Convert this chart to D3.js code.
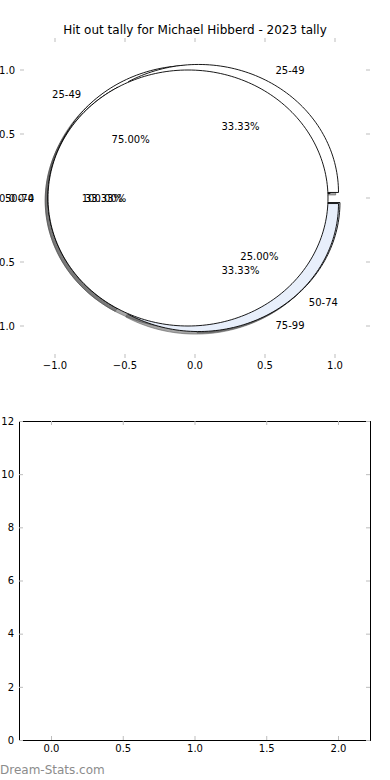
<!DOCTYPE html>
<html>
<head>
<meta charset="utf-8">
<script src="https://cdn.jsdelivr.net/npm/d3@7"></script>
<style>
  body { margin: 0; background: #fff; }
  text { font-family: "DejaVu Sans", sans-serif; }
</style>
</head>
<body>
<div id="chart-container"></div>
<script>
const titleText = "Hit out tally for Michael Hibberd - 2023 tally";

// three pies drawn over each other on the same axes
const pieALabels = ["25-49", "50-74"];
const pieAValues = [75, 25];
const pieBLabels = ["25-49", "50-74", "75-99"];
const pieBValues = [1, 1, 1];
const pieCLabels = ["0-0"];
const pieCValues = [1];

const pieTicks = [-1.0, -0.5, 0.0, 0.5, 1.0];
const barXTicks = [0.0, 0.5, 1.0, 1.5, 2.0];
const barYTicks = [0, 2, 4, 6, 8, 10, 12];

if (document.addEventListener) {
  document.addEventListener('DOMContentLoaded', function() {
    visualise();
  });
}

function visualise() {
  const svgWidth = 390;
  const svgHeight = 780;

  const svg = d3.select('#chart-container')
      .append('svg')
      .attr('width', svgWidth)
      .attr('height', svgHeight);

  const tickColor = '#bdbdbd';
  const fmt = d3.format('.1f');

  // ---- top axes: the pies ----
  const top = {left: 20, right: 370, top: 38, bottom: 358};
  const x = d3.scaleLinear().domain([-1.25, 1.25]).range([top.left, top.right]);
  const y = d3.scaleLinear().domain([-1.25, 1.25]).range([top.bottom, top.top]);

  svg.append('text')
      .attr('x', 195)
      .attr('y', 34)
      .attr('text-anchor', 'middle')
      .attr('font-size', 12)
      .attr('fill', '#000')
      .text(titleText);

  const shadowLayer = svg.append('g');
  const wedgeLayer = svg.append('g');
  const textLayer = svg.append('g');

  const line = d3.line()
      .x(function(d) { return x(d[0]); })
      .y(function(d) { return y(d[1]); });

  function wedgePoints(a, cx, cy) {
    const span = a.endAngle - a.startAngle;
    const full = span >= 2 * Math.PI - 1e-9;
    const n = Math.max(8, Math.ceil(span / (Math.PI / 120)));
    const pts = full ? [] : [[cx, cy]];
    for (let i = 0; i <= n; i++) {
      const t = a.startAngle + span * i / n;
      pts.push([cx + Math.cos(t), cy + Math.sin(t)]);
    }
    return pts;
  }

  function drawPie(values, labels, colors, explode) {
    // d3.pie angles are read as counter-clockwise from 3 o'clock here
    const arcs = d3.pie().sort(null)(values);
    const total = d3.sum(values);
    arcs.forEach(function(a, i) {
      const mid = (a.startAngle + a.endAngle) / 2;
      const cx = explode * Math.cos(mid);
      const cy = explode * Math.sin(mid);

      shadowLayer.append('path')
          .attr('d', line(wedgePoints(a, cx - 0.02, cy - 0.02)) + 'Z')
          .attr('fill', 'rgba(77,77,77,0.5)')
          .attr('stroke', 'rgba(77,77,77,0.5)')
          .attr('stroke-width', 1);

      wedgeLayer.append('path')
          .attr('d', line(wedgePoints(a, cx, cy)) + 'Z')
          .attr('fill', colors[i % colors.length])
          .attr('stroke', '#000')
          .attr('stroke-width', 0.9)
          .attr('stroke-linejoin', 'miter');

      const lx = cx + 1.1 * Math.cos(mid);
      const ly = cy + 1.1 * Math.sin(mid);
      textLayer.append('text')
          .attr('x', x(lx))
          .attr('y', y(ly))
          .attr('dy', '0.36em')
          .attr('text-anchor', lx > 0 ? 'start' : 'end')
          .attr('font-size', 10)
          .text(labels[i]);

      const px = cx + 0.6 * Math.cos(mid);
      const py = cy + 0.6 * Math.sin(mid);
      textLayer.append('text')
          .attr('x', x(px))
          .attr('y', y(py))
          .attr('dy', '0.36em')
          .attr('text-anchor', 'middle')
          .attr('font-size', 10)
          .text(d3.format('.2f')(100 * values[i] / total) + '%');
    });
  }

  const pieColors = ['#ffffff', '#e8effb', '#e8effb'];
  drawPie(pieAValues, pieALabels, pieColors, 0.05);
  drawPie(pieBValues, pieBLabels, pieColors, 0.05);
  drawPie(pieCValues, pieCLabels, pieColors, 0.05);

  // ticks of the pie axes (no spines)
  const topAxes = svg.append('g');
  pieTicks.forEach(function(t) {
    topAxes.append('line').attr('x1', x(t)).attr('x2', x(t))
        .attr('y1', top.bottom).attr('y2', top.bottom - 4)
        .attr('stroke', tickColor);
    topAxes.append('line').attr('x1', x(t)).attr('x2', x(t))
        .attr('y1', top.top).attr('y2', top.top + 4)
        .attr('stroke', tickColor);
    topAxes.append('line').attr('x1', top.left).attr('x2', top.left + 4)
        .attr('y1', y(t)).attr('y2', y(t))
        .attr('stroke', tickColor);
    topAxes.append('line').attr('x1', top.right).attr('x2', top.right - 4)
        .attr('y1', y(t)).attr('y2', y(t))
        .attr('stroke', tickColor);
    topAxes.append('text')
        .attr('x', x(t)).attr('y', top.bottom + 11)
        .attr('text-anchor', 'middle').attr('font-size', 10)
        .text(fmt(t));
    topAxes.append('text')
        .attr('x', top.left - 5).attr('y', y(t)).attr('dy', '0.36em')
        .attr('text-anchor', 'end').attr('font-size', 10)
        .text(fmt(t));
  });

  // ---- bottom axes: empty bar chart ----
  const bot = {left: 19, right: 370, top: 421, bottom: 740};
  const bx = d3.scaleLinear().domain([-0.223, 2.223]).range([bot.left, bot.right]);
  const by = d3.scaleLinear().domain([0, 12]).range([bot.bottom, bot.top]);

  const chart = svg.append('g');

  chart.append('g')
      .attr('transform', 'translate(0,' + bot.bottom + ')')
      .call(d3.axisBottom(bx).tickValues(barXTicks).tickFormat(fmt).tickSize(-4).tickPadding(5))
      .call(styleAxis);
  chart.append('g')
      .attr('transform', 'translate(0,' + bot.top + ')')
      .call(d3.axisTop(bx).tickValues(barXTicks).tickFormat('').tickSize(-4))
      .call(styleAxis);
  chart.append('g')
      .attr('transform', 'translate(' + bot.left + ',0)')
      .call(d3.axisLeft(by).tickValues(barYTicks).tickFormat(d3.format('d')).tickSize(-4).tickPadding(5))
      .call(styleAxis);
  chart.append('g')
      .attr('transform', 'translate(' + bot.right + ',0)')
      .call(d3.axisRight(by).tickValues(barYTicks).tickFormat('').tickSize(-4))
      .call(styleAxis);

  function styleAxis(g) {
    g.select('.domain').attr('stroke', '#000').attr('stroke-width', 1);
    g.selectAll('.tick line').attr('stroke', tickColor);
    g.selectAll('.tick text')
        .attr('font-family', '"DejaVu Sans", sans-serif')
        .attr('font-size', 10)
        .attr('fill', '#000');
  }

  svg.append('text')
      .attr('x', 0)
      .attr('y', 774)
      .attr('font-size', 12)
      .attr('fill', '#8c8c8c')
      .text('Dream-Stats.com');
}
</script>
</body>
</html>
